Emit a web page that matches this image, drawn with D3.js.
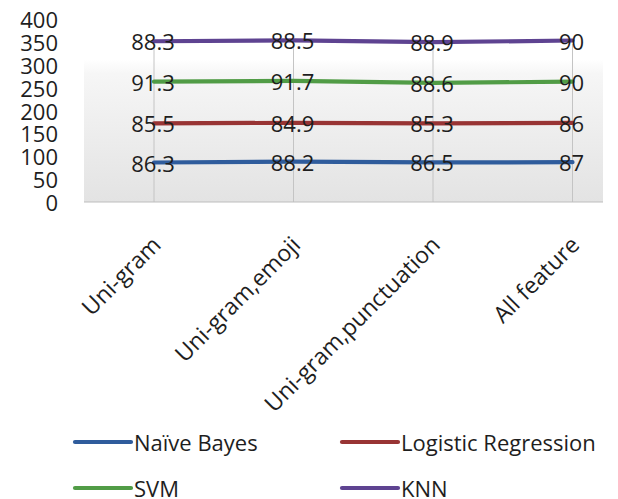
<!DOCTYPE html>
<html>
<head>
<meta charset="utf-8">
<script src="https://cdn.jsdelivr.net/npm/d3@7"></script>
<style>
  html, body { margin: 0; padding: 0; background: #fff; }
  svg { display: block; font-family: "Open Sans", sans-serif; }
</style>
</head>
<body>
<svg id="chart" width="618" height="499"></svg>
<script>
// Feature sets on the category axis
const categories = ["Uni-gram", "Uni-gram,emoji", "Uni-gram,punctuation", "All feature"];

// Accuracy (%) per classifier, stacked in this order
const seriesNames = ["Naïve Bayes", "Logistic Regression", "SVM", "KNN"];
const naiveBayes = [86.3, 88.2, 86.5, 87];
const logisticRegression = [85.5, 84.9, 85.3, 86];
const svm = [91.3, 91.7, 88.6, 90];
const knn = [88.3, 88.5, 88.9, 90];

const yTicks = [0, 50, 100, 150, 200, 250, 300, 350, 400];
const colors = ["#2f5c9c", "#983434", "#519c46", "#5e4391"];

const valuesBySeries = [naiveBayes, logisticRegression, svm, knn];
const rows = categories.map((c, i) => {
  const r = { category: c };
  seriesNames.forEach((s, k) => { r[s] = valuesBySeries[k][i]; });
  return r;
});
const stacked = d3.stack().keys(seriesNames)(rows);

const svg = d3.select("#chart");
const plot = { left: 84, right: 603, top: 19, bottom: 202 };

const x = d3.scalePoint().domain(categories).range([154, 572.5]);
const y = d3.scaleLinear().domain([0, 400]).range([plot.bottom, plot.top]);

// Plot area background: soft vertical gradient
const defs = svg.append("defs");
const grad = defs.append("linearGradient").attr("id", "bg").attr("x1", 0).attr("y1", 0).attr("x2", 0).attr("y2", 1);
grad.append("stop").attr("offset", "0%").attr("stop-color", "#ffffff");
grad.append("stop").attr("offset", "22%").attr("stop-color", "#ffffff");
grad.append("stop").attr("offset", "30%").attr("stop-color", "#f6f6f6");
grad.append("stop").attr("offset", "100%").attr("stop-color", "#e3e3e3");
svg.append("rect")
  .attr("x", plot.left).attr("y", plot.top)
  .attr("width", plot.right - plot.left).attr("height", plot.bottom - plot.top)
  .attr("fill", "url(#bg)");

// Vertical gridlines at each category
svg.append("g").selectAll("line").data(categories).join("line")
  .attr("x1", d => x(d)).attr("x2", d => x(d))
  .attr("y1", y(345)).attr("y2", plot.bottom)
  .attr("stroke", "#c4c4c4").attr("stroke-width", 1);

// Category axis baseline
svg.append("line")
  .attr("x1", plot.left).attr("x2", plot.right)
  .attr("y1", y(0)).attr("y2", y(0))
  .attr("stroke", "#bdbdbd").attr("stroke-width", 1.2);

// Value axis labels
svg.append("g").selectAll("text").data(yTicks).join("text")
  .attr("x", 58).attr("y", d => y(d))
  .attr("text-anchor", "end").attr("dominant-baseline", "central")
  .attr("font-size", 22).attr("fill", "#1e1e1e")
  .text(d => d);

// Stacked lines
const line = d3.line().x((d, i) => x(categories[i])).y(d => y(d[1]));
svg.append("g").selectAll("path").data(stacked).join("path")
  .attr("d", s => line(s))
  .attr("fill", "none")
  .attr("stroke", (s, k) => colors[k])
  .attr("stroke-width", 4.2)
  .attr("stroke-linecap", "round");

// Data labels showing each series' own value
stacked.forEach((s, k) => {
  svg.append("g").selectAll("text").data(s).join("text")
    .attr("x", (d, i) => x(categories[i]) - 1)
    .attr("y", d => y(d[1]))
    .attr("text-anchor", "middle").attr("dominant-baseline", "central")
    .attr("font-size", 22).attr("fill", "#1e1e1e")
    .text((d, i) => valuesBySeries[k][i]);
});

// Rotated category labels
svg.append("g").selectAll("text").data(categories).join("text")
  .attr("transform", d => `translate(${x(d) + 2},${240}) rotate(-45)`)
  .attr("text-anchor", "end").attr("dominant-baseline", "central")
  .attr("font-size", 23).attr("fill", "#1e1e1e")
  .text(d => d);

// Legend, two columns by two rows
const legendPos = [
  { lx: 75, ly: 442 }, { lx: 342, ly: 442 },
  { lx: 75, ly: 488 }, { lx: 342, ly: 488 }
];
const legend = svg.append("g").selectAll("g").data(seriesNames).join("g")
  .attr("transform", (d, k) => `translate(${legendPos[k].lx},${legendPos[k].ly})`);
legend.append("line")
  .attr("x1", 0).attr("x2", 56).attr("y1", 0).attr("y2", 0)
  .attr("stroke", (d, k) => colors[k]).attr("stroke-width", 4.2)
  .attr("stroke-linecap", "round");
legend.append("text")
  .attr("x", 59).attr("y", 0)
  .attr("dominant-baseline", "central")
  .attr("font-size", 22).attr("fill", "#1e1e1e")
  .text(d => d);
</script>
</body>
</html>
